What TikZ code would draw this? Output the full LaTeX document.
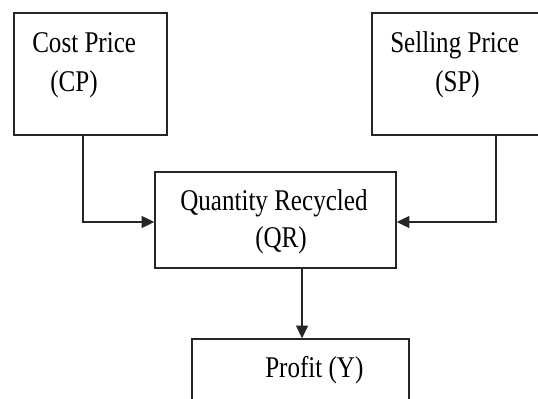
\documentclass[tikz,border=0pt]{standalone}
\usepackage{fontspec}
\setmainfont{Liberation Serif}
\usetikzlibrary{arrows.meta}
\newcommand{\lbl}[1]{\scalebox{1}[1.2]{#1}}
\tikzset{
  box/.style={draw=black!85, line width=1.1pt, rectangle, inner sep=0pt},
  txt/.style={anchor=base west, inner sep=0pt, font=\fontsize{18.8}{22}\selectfont, text=black},
  arr/.style={draw=black!85, line width=0.9pt, -{Triangle[length=9.5pt,width=9pt]}}
}
\begin{document}
\begin{tikzpicture}[x=0.75pt,y=-0.75pt]
\useasboundingbox (0,0) rectangle (538,399);
\clip (0,0) rectangle (538,399);
\fill[white] (0,0) rectangle (538,399);
\node[box, minimum width=153*0.75pt, minimum height=122*0.75pt] (cp) at (90.5,74) {};
\node[box, minimum width=188*0.75pt, minimum height=122*0.75pt] (sp) at (466,74) {};
\node[box, minimum width=241*0.75pt, minimum height=96*0.75pt] (qr) at (275.5,220) {};
\node[box, minimum width=217*0.75pt, minimum height=91*0.75pt] (pr) at (300.5,384.5) {};
\node[txt] (cpa) at (32,53) {\lbl{Cost Price}};
\node[txt] (cpb) at (50,92) {\lbl{(CP)}};
\node[txt] (spa) at (390,53) {\lbl{Selling Price}};
\node[txt] (spb) at (435,92) {\lbl{(SP)}};
\node[txt] (qra) at (180,210) {\lbl{Quantity Recycled}};
\node[txt] (qrb) at (255,247) {\lbl{(QR)}};
\node[txt] (pra) at (265,377) {\lbl{Profit (Y)}};
\draw[arr] ([xshift=-5.6pt]cp.south) |- ([yshift=-1.5pt]qr.west);
\draw[arr] ([xshift=22.5pt]sp.south) |- ([yshift=-1.5pt]qr.east);
\draw[arr] ([xshift=19.9pt]qr.south) -- ([xshift=19.9pt]qr.south |- pr.north);
\end{tikzpicture}
\end{document}
